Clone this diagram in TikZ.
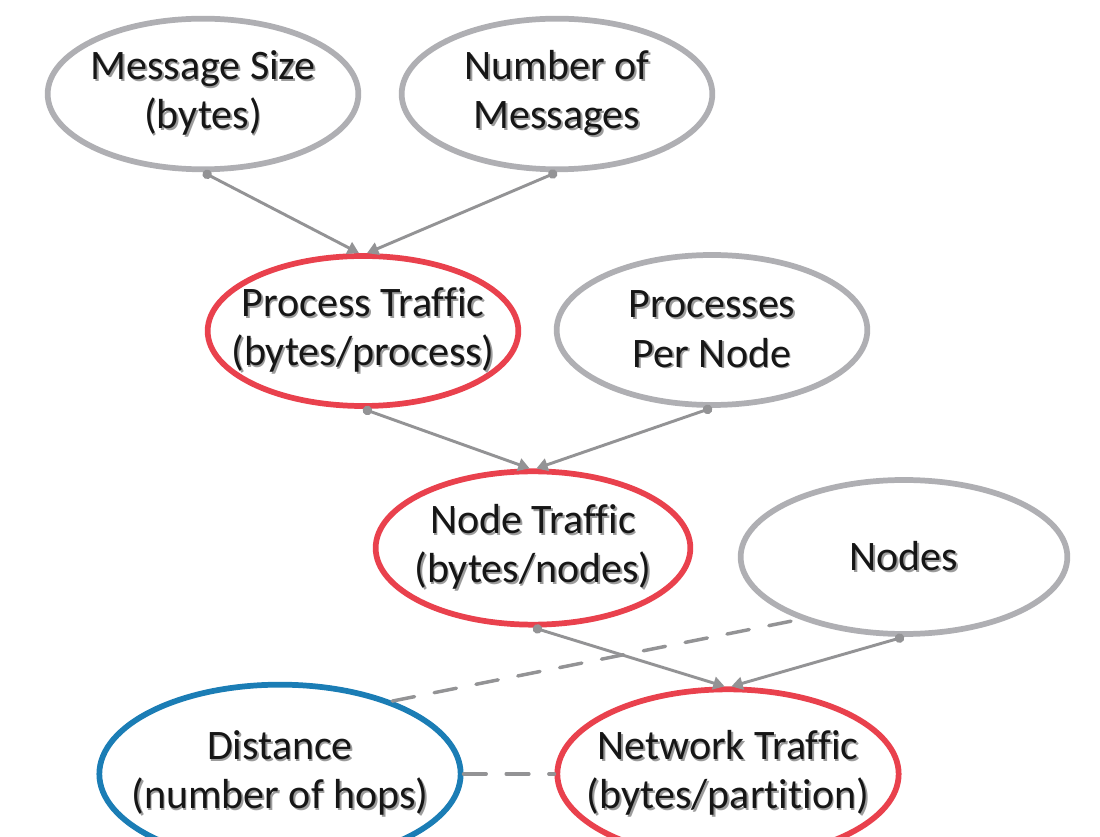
\documentclass[tikz,border=0pt]{standalone}
\usepackage{fontspec}
\setmainfont{Carlito}[Ligatures={NoCommon}]
\usetikzlibrary{shapes.geometric,arrows.meta,shadows}
\definecolor{bordergray}{HTML}{AFAFB3}
\definecolor{borderred}{HTML}{E9414D}
\definecolor{borderblue}{HTML}{1B7DB5}
\definecolor{conngray}{HTML}{939395}
\definecolor{txtcol}{HTML}{161616}
\definecolor{txtshadow}{HTML}{9C9C9C}
\newcommand\shtext[1]{\makebox[0pt][l]{\hspace{1.3pt}\raisebox{-1.3pt}{\textcolor{txtshadow}{#1}}}#1}
\tikzset{
  bubble/.style={ellipse, draw=bordergray, line width=4.3pt, fill=white,
    inner xsep=-60pt, inner ysep=-30pt,
    align=center, text=txtcol, font=\fontsize{31.5}{37}\selectfont,
    drop shadow={shadow xshift=0.9pt, shadow yshift=-1.1pt, fill=black!45, opacity=0.6}},
  redbubble/.style={bubble, draw=borderred},
  bluebubble/.style={bubble, draw=borderblue},
  conn/.style={draw=conngray, line width=2.2pt, {Circle[length=7pt]}-{Triangle[length=8.5pt,width=9.5pt]}},
  dashconn/.style={draw=conngray, line width=2.6pt, line cap=round, dash pattern=on 17pt off 15pt},
}
\begin{document}
\begin{tikzpicture}[x=0.75pt,y=-0.75pt]
\useasboundingbox (0,0) rectangle (1100,837);
\node[bubble, minimum width=233pt, minimum height=113pt] (ms) at (203,94) {\shtext{Message Size}\\\shtext{(bytes)}};
\node[bubble, minimum width=233pt, minimum height=113pt] (nm) at (557,94) {\shtext{Number of}\\\shtext{Messages}};
\node[redbubble, minimum width=233pt, minimum height=112.5pt] (pt) at (363,331) {\shtext{Process Traffic}\\\shtext{(bytes/process)}};
\node[bubble, minimum width=233pt, minimum height=112.5pt] (ppn) at (712,330) {\shtext{Processes}\\\shtext{Per Node}};
\node[redbubble, minimum width=236pt, minimum height=115pt] (nt) at (533,548) {\shtext{Node Traffic}\\\shtext{(bytes/nodes)}};
\node[bubble, minimum width=245pt, minimum height=115.5pt] (nodes) at (904,557) {\shtext{Nodes}};
\node[bluebubble, minimum width=271pt, minimum height=134pt] (dist) at (280,774) {\shtext{Distance}\\\shtext{(number of hops)}};
\node[redbubble, minimum width=256pt, minimum height=127pt] (net) at (728,774) {\shtext{Network Traffic}\\\shtext{(bytes/partition)}};
\draw[conn] (ms.south) -- ([xshift=-3pt]pt.north);
\draw[conn] (nm.south) -- ([xshift=3pt]pt.north);
\draw[conn] (pt.south) -- ([xshift=-2.5pt]nt.north);
\draw[conn] (ppn.south) -- ([xshift=2.5pt]nt.north);
\draw[conn] (nt.south) -- ([xshift=-2.5pt]net.north);
\draw[conn] (nodes.south) -- ([xshift=2.5pt]net.north);
\draw[dashconn] (dist.33) -- (nodes.211);
\draw[dashconn] (dist.east) -- (net.west);
\end{tikzpicture}
\end{document}
